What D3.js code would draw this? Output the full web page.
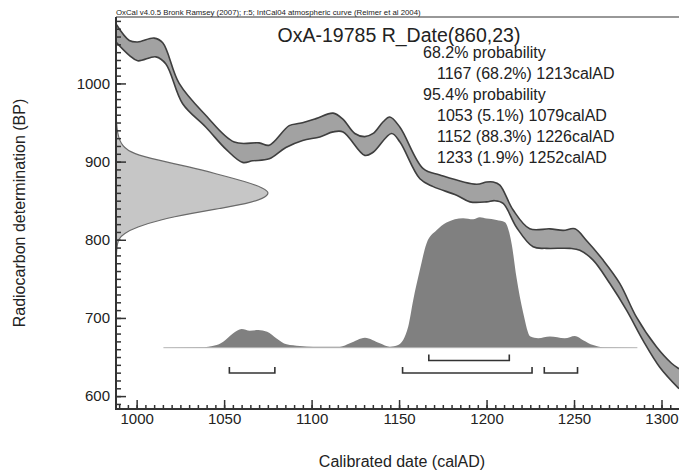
<!DOCTYPE html>
<meta charset="utf-8">
<html>
<style>
 body { margin:0; background:#fff; }
 svg text { font-family: "Liberation Sans", Arial, sans-serif; fill:#222; }
</style>
<script src="https://d3js.org/d3.v7.min.js"></script>
<body>
<svg width="679" height="473"></svg>
<script>
// calibration curve edges [calAD, BP]
const bandUpper = [[988.2,1076],[995.8,1055],[1000.6,1053],[1010,1058],[1014.9,1052],[1024.3,1000],
  [1039.6,959],[1055.8,925],[1070,924],[1075.8,921],[1087.2,946],[1093.3,949],[1102.5,955],
  [1112.3,962],[1118,954],[1124.7,936],[1130.4,932],[1135.2,936],[1140.9,951],[1144.7,957],
  [1150.5,944],[1163.8,891],[1173.3,883],[1194.3,871],[1200,874],[1203.8,874],[1207.6,870],
  [1215.2,838],[1224.7,814],[1236.2,814],[1243.8,812],[1250.5,814],[1257.1,799],[1266.6,774],
  [1276.2,744],[1285.7,701],[1297.1,663],[1305.7,642],[1310,635]];
const bandLower = [[988.2,1053],[995.8,1036],[1000.6,1029],[1011,1034],[1016.7,1025],[1026.3,974],
  [1039.6,944],[1051,916],[1060.6,899],[1066.3,901],[1075.8,903.5],[1085.3,918],[1094.9,927],
  [1104.7,931.6],[1112.3,938],[1118,938],[1130.4,908],[1135.2,912],[1145.7,936],[1150.5,925],
  [1161.9,878],[1169.5,868],[1182.9,857],[1190.5,848.5],[1200,848.5],[1204.7,850],[1209.5,846.5],
  [1217.1,816],[1226.6,791],[1234.3,789],[1247.6,789],[1253.3,786.6],[1260.9,774],[1270.5,744],
  [1280,710],[1289.5,671],[1299,637],[1310,609.5]];

// radiocarbon measurement, relative probability by BP
const dateBP   = [966, 936, 919, 910, 902, 893, 885, 874, 866, 860, 853, 846, 840, 834, 826, 816, 808, 801, 790, 766];
const dateProb = [0, 0.005, 0.04, 0.11, 0.27, 0.48, 0.64, 0.85, 0.96, 1, 0.96, 0.85, 0.67, 0.5, 0.29, 0.13, 0.05, 0.015, 0.004, 0];

// calibrated result, relative probability by calAD
const postYears = [1015.3, 1036.2, 1045.7, 1049.5, 1055.2, 1060, 1064.7, 1069.5, 1074.6, 1080, 1085.7,
  1093.3, 1100.9, 1116.2, 1121.9, 1130.5, 1139, 1144.7, 1149.5, 1155.2, 1158.1, 1161.9, 1165.7,
  1171.4, 1177.1, 1186.6, 1192.3, 1196.2, 1200, 1205.7, 1210.5, 1214.3, 1217.1, 1220.9, 1225.1,
  1229.5, 1236.2, 1244.7, 1250.5, 1255.2, 1260.9, 1266.6, 1286.2];
const postProb = [0, 0.003, 0.021, 0.046, 0.11, 0.143, 0.13, 0.135, 0.123, 0.071, 0.026,
  0.013, 0.008, 0.008, 0.034, 0.077, 0.034, 0.008, 0.021, 0.161, 0.366, 0.597, 0.8,
  0.9, 0.96, 0.993, 0.985, 1, 0.99, 0.98, 0.963, 0.8, 0.54, 0.27, 0.085,
  0.072, 0.085, 0.072, 0.09, 0.058, 0.02, 0.003, 0];

const ranges68 = [[1167, 1213]];
const ranges95 = [[1053, 1079], [1152, 1226], [1233, 1252]];
const pct68 = ["68.2%"];
const pct95 = ["5.1%", "88.3%", "1.9%"];

const yTicks = [600, 700, 800, 900, 1000];
const xTicks = [1000, 1050, 1100, 1150, 1200, 1250, 1300];

const headerText = "OxCal v4.0.5 Bronk Ramsey (2007); r:5; IntCal04 atmospheric curve (Reimer et al 2004)";
const titleText = "OxA-19785 R_Date(860,23)";

const svg = d3.select('svg');
const pLeft = 116, pRight = 679, pTop = 17, pBottom = 409;

const x = d3.scaleLinear().domain([988.2, 1310]).range([pLeft, pRight]);
const y = d3.scaleLinear().domain([583.5, 1085]).range([pBottom, pTop]);
const w = d3.scaleLinear().domain([0, 1]).range([pLeft, 270]);
const baseY = 347.7;
const h = d3.scaleLinear().domain([0, 1]).range([baseY, 217.3]);

svg.append('clipPath').attr('id', 'plot')
  .append('rect').attr('x', pLeft).attr('y', pTop).attr('width', pRight - pLeft).attr('height', pBottom - pTop);
const plot = svg.append('g').attr('clip-path', 'url(#plot)');

// measurement distribution on the y axis
const datePts = dateBP.map((d, i) => [d, dateProb[i]]);
plot.append('path')
  .attr('d', d3.area().y(d => y(d[0])).x0(pLeft).x1(d => w(d[1])).curve(d3.curveBasis)(datePts))
  .attr('fill', '#c6c6c6');
plot.append('path')
  .attr('d', d3.line().y(d => y(d[0])).x(d => w(d[1])).curve(d3.curveBasis)(datePts))
  .attr('fill', 'none')
  .attr('stroke', '#6a6a6a')
  .attr('stroke-width', 1.2);

// calibration band
const bandLine = d3.line().x(d => x(d[0])).y(d => y(d[1])).curve(d3.curveCatmullRom.alpha(0.5));
const upperPath = bandLine(bandUpper);
const lowerBack = bandLine(bandLower.slice().reverse());
plot.append('path')
  .attr('d', upperPath + 'L' + lowerBack.slice(1) + 'Z')
  .attr('fill', '#a2a2a2');
[upperPath, bandLine(bandLower)].forEach(p => {
  plot.append('path')
    .attr('d', p)
    .attr('fill', 'none')
    .attr('stroke', '#3e3e3e')
    .attr('stroke-width', 1.6)
    .attr('stroke-linejoin', 'round');
});

// calibrated distribution
const postPts = postYears.map((d, i) => [d, postProb[i]]);
plot.append('path')
  .attr('d', d3.area().x(d => x(d[0])).y0(baseY).y1(d => h(d[1])).curve(d3.curveMonotoneX)(postPts))
  .attr('fill', '#808080');
plot.append('line')
  .attr('x1', x(postYears[0])).attr('x2', x(postYears[postYears.length - 1]))
  .attr('y1', baseY).attr('y2', baseY)
  .attr('stroke', '#b4b4b4').attr('stroke-width', 1);

// range brackets
const bracket = (r, by) => {
  plot.append('path')
    .attr('d', `M${x(r[0])},${by - 6}V${by}H${x(r[1])}V${by - 6}`)
    .attr('fill', 'none')
    .attr('stroke', '#333')
    .attr('stroke-width', 1.6);
};
ranges68.forEach(r => bracket(r, 360.5));
ranges95.forEach(r => bracket(r, 373));

// axes
const tickStyle = g => {
  g.select('.domain').remove();
  g.selectAll('.tick line').attr('stroke', '#333').attr('stroke-width', 1.5);
  g.selectAll('.tick text').attr('fill', '#222').style('font-size', '15px')
    .style('font-family', '"Liberation Sans", Arial, sans-serif');
};

svg.append('g')
  .attr('transform', `translate(${pLeft},0)`)
  .call(d3.axisLeft(y).tickValues(d3.range(590, 1085, 10)).tickSize(-5).tickFormat(''))
  .call(tickStyle);
svg.append('g')
  .attr('transform', `translate(${pLeft},0)`)
  .call(d3.axisLeft(y).tickValues(yTicks).tickSize(-10).tickPadding(6).tickFormat(d3.format('d')))
  .call(tickStyle);

svg.append('g')
  .attr('transform', `translate(0,${pBottom})`)
  .call(d3.axisBottom(x).tickValues(d3.range(990, 1310, 5)).tickSize(-4).tickFormat(''))
  .call(tickStyle);
svg.append('g')
  .attr('transform', `translate(0,${pBottom})`)
  .call(d3.axisBottom(x).tickValues(xTicks).tickSize(-9).tickPadding(4).tickFormat(d3.format('d')))
  .call(tickStyle);

svg.append('line').attr('x1', pLeft).attr('x2', pRight).attr('y1', pTop).attr('y2', pTop)
  .attr('stroke', '#333').attr('stroke-width', 1.2);
svg.append('line').attr('x1', pLeft).attr('x2', pLeft).attr('y1', pTop).attr('y2', pBottom + 1)
  .attr('stroke', '#333').attr('stroke-width', 2);
svg.append('line').attr('x1', pLeft - 1).attr('x2', pRight).attr('y1', pBottom).attr('y2', pBottom)
  .attr('stroke', '#333').attr('stroke-width', 2);

// texts
svg.append('text')
  .attr('x', pLeft).attr('y', 15)
  .style('font-size', '7.8px')
  .text(headerText);

svg.append('text')
  .attr('x', 399).attr('y', 42)
  .attr('text-anchor', 'middle')
  .style('font-size', '19.5px')
  .text(titleText);

const info = [];
info.push({t: '68.2% probability', indent: false});
ranges68.forEach((r, i) => info.push({t: `${r[0]} (${pct68[i]}) ${r[1]}calAD`, indent: true}));
info.push({t: '95.4% probability', indent: false});
ranges95.forEach((r, i) => info.push({t: `${r[0]} (${pct95[i]}) ${r[1]}calAD`, indent: true}));

svg.append('g').selectAll('text')
  .data(info)
  .join('text')
  .attr('x', d => d.indent ? 437 : 423)
  .attr('y', (d, i) => 58.3 + i * 20.9)
  .style('font-size', '16px')
  .text(d => d.t);

svg.append('text')
  .attr('transform', 'translate(25,213) rotate(-90)')
  .attr('text-anchor', 'middle')
  .style('font-size', '16px')
  .text('Radiocarbon determination (BP)');

svg.append('text')
  .attr('x', 402).attr('y', 467)
  .attr('text-anchor', 'middle')
  .style('font-size', '16px')
  .text('Calibrated date (calAD)');
</script>
</body>
</html>
